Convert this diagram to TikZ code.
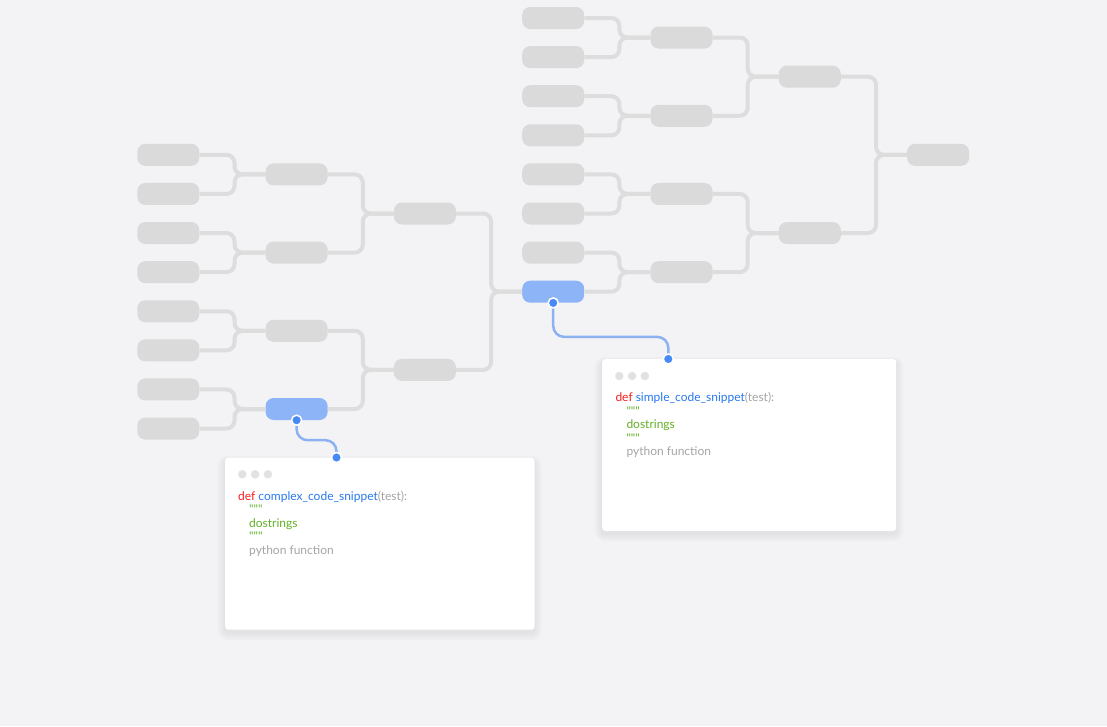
\documentclass[tikz,border=0pt]{standalone}
\usepackage{fontspec}
\newfontfamily\codefont{Lato}
\definecolor{bg}{RGB}{243,243,246}
\definecolor{nodegray}{RGB}{218,218,218}
\definecolor{linegray}{RGB}{221,221,221}
\definecolor{nodeblue}{RGB}{141,180,246}
\definecolor{lineblue}{RGB}{140,178,242}
\definecolor{dotblue}{RGB}{72,138,245}
\definecolor{dotgray}{RGB}{226,226,228}
\definecolor{defred}{RGB}{250,30,30}
\definecolor{fnblue}{RGB}{40,120,240}
\definecolor{txtgray}{RGB}{165,165,165}
\definecolor{docgreen}{RGB}{100,175,40}
\begin{document}
\begin{tikzpicture}[x=1pt,y=-1pt,
  box/.style={fill=nodegray, rounded corners=8pt, minimum width=62pt, minimum height=22pt, inner sep=0pt},
  bluebox/.style={box, fill=nodeblue},
  conn/.style={draw=linegray, line width=4pt, rounded corners=8pt},
  bconn/.style={draw=lineblue, line width=2.5pt, rounded corners=11pt},
  dot/.style={circle, fill=dotblue, draw=white, line width=1.5pt, minimum size=10pt, inner sep=0pt},
  codebox/.style={fill=white, rounded corners=3pt, anchor=north west, inner sep=0pt},
  greydot/.style={circle, fill=dotgray, minimum size=8.5pt, inner sep=0pt},
  code/.style={anchor=base west, inner sep=0pt, font=\codefont\fontsize{12}{14}\selectfont}
]
\fill[bg] (0,0) rectangle (1107,726);

% ---- left bracket
\foreach \k in {0,...,7} \node[box] (A\k) at (168.3,{18+(3.5+\k)*39.1}) {};
\foreach \j/\st in {0/box,1/box,2/box,3/bluebox} \node[\st] (B\j) at (296.6,{18+(4+2*\j)*39.1}) {};
\foreach \j in {0,1} \node[box] (C\j) at (424.9,{18+(5+4*\j)*39.1}) {};
\node[bluebox] (M) at (553.2,{18+7*39.1}) {};

% ---- right bracket
\foreach \k in {0,...,6} \node[box] (R\k) at (553.2,{18+\k*39.1}) {};
\foreach \j in {0,...,3} \node[box] (S\j) at (681.5,{18+(0.5+2*\j)*39.1}) {};
\foreach \j in {0,1} \node[box] (T\j) at (809.8,{18+(1.5+4*\j)*39.1}) {};
\node[box] (F) at (938.1,{18+3.5*39.1}) {};

% ---- connectors
\foreach \k in {0,...,7}{\pgfmathtruncatemacro\j{\k/2}\draw[conn] (A\k.east) -- ++(35,0) |- (B\j.west);}
\foreach \k in {0,...,3}{\pgfmathtruncatemacro\j{\k/2}\draw[conn] (B\k.east) -- ++(35,0) |- (C\j.west);}
\foreach \k in {0,1}{\draw[conn] (C\k.east) -- ++(35,0) |- (M.west);}
\foreach \k in {0,...,6}{\pgfmathtruncatemacro\j{\k/2}\draw[conn] (R\k.east) -- ++(35,0) |- (S\j.west);}
\draw[conn] (M.east) -- ++(35,0) |- (S3.west);
\foreach \k in {0,...,3}{\pgfmathtruncatemacro\j{\k/2}\draw[conn] (S\k.east) -- ++(35,0) |- (T\j.west);}
\foreach \k in {0,1}{\draw[conn] (T\k.east) -- ++(35,0) |- (F.west);}

% ---- code boxes with soft shadows
\foreach \i in {1,...,8}{
  \fill[black, opacity=0.006, rounded corners={3pt+\i pt}] ({225-\i},{460-0.6*\i}) rectangle ({534.3+\i},{633+\i});
  \fill[black, opacity=0.006, rounded corners={3pt+\i pt}] ({602-\i},{361.5-0.6*\i}) rectangle ({896+\i},{534+\i});
}
\node[codebox, minimum width=309.3pt, minimum height=172pt] (CL) at (225,457.5) {};
\node[codebox, minimum width=294pt, minimum height=171.7pt] (CR) at (602,359) {};

\coordinate (pL) at (336.5,457.5);
\coordinate (pR) at (668.3,359);
\draw[bconn] (B3.south) -- ++(0,20) -| (pL);
\draw[bconn] (M.south) -- ++(0,34) -| (pR);
\node[dot] (dL1) at (B3.south) {};
\node[dot] (dL2) at (pL) {};
\node[dot] (dR1) at (M.south) {};
\node[dot] (dR2) at (pR) {};

% window dots
\foreach \i in {0,1,2}{
  \node[greydot] (gL\i) at ({242.3+12.8*\i},474.3) {};
  \node[greydot] (gR\i) at ({619.3+12.8*\i},376) {};
}

% code text left
\node[code] (tL1) at (238,500) {\color{defred}def \color{fnblue}complex\_code\_snippet\color{txtgray}(test):};
\node[code, text=docgreen] (tL2) at (249,513.5) {"""};
\node[code, text=docgreen] (tL3) at (249,527) {dostrings};
\node[code, text=docgreen] (tL4) at (249,540.5) {"""};
\node[code, text=txtgray] (tL5) at (249,554) {python function};

% code text right
\node[code] (tR1) at (615.3,401.5) {\color{defred}def \color{fnblue}simple\_code\_snippet\color{txtgray}(test):};
\node[code, text=docgreen] (tR2) at (626.3,415) {"""};
\node[code, text=docgreen] (tR3) at (626.3,428.5) {dostrings};
\node[code, text=docgreen] (tR4) at (626.3,442) {"""};
\node[code, text=txtgray] (tR5) at (626.3,455.5) {python function};
\end{tikzpicture}
\end{document}
